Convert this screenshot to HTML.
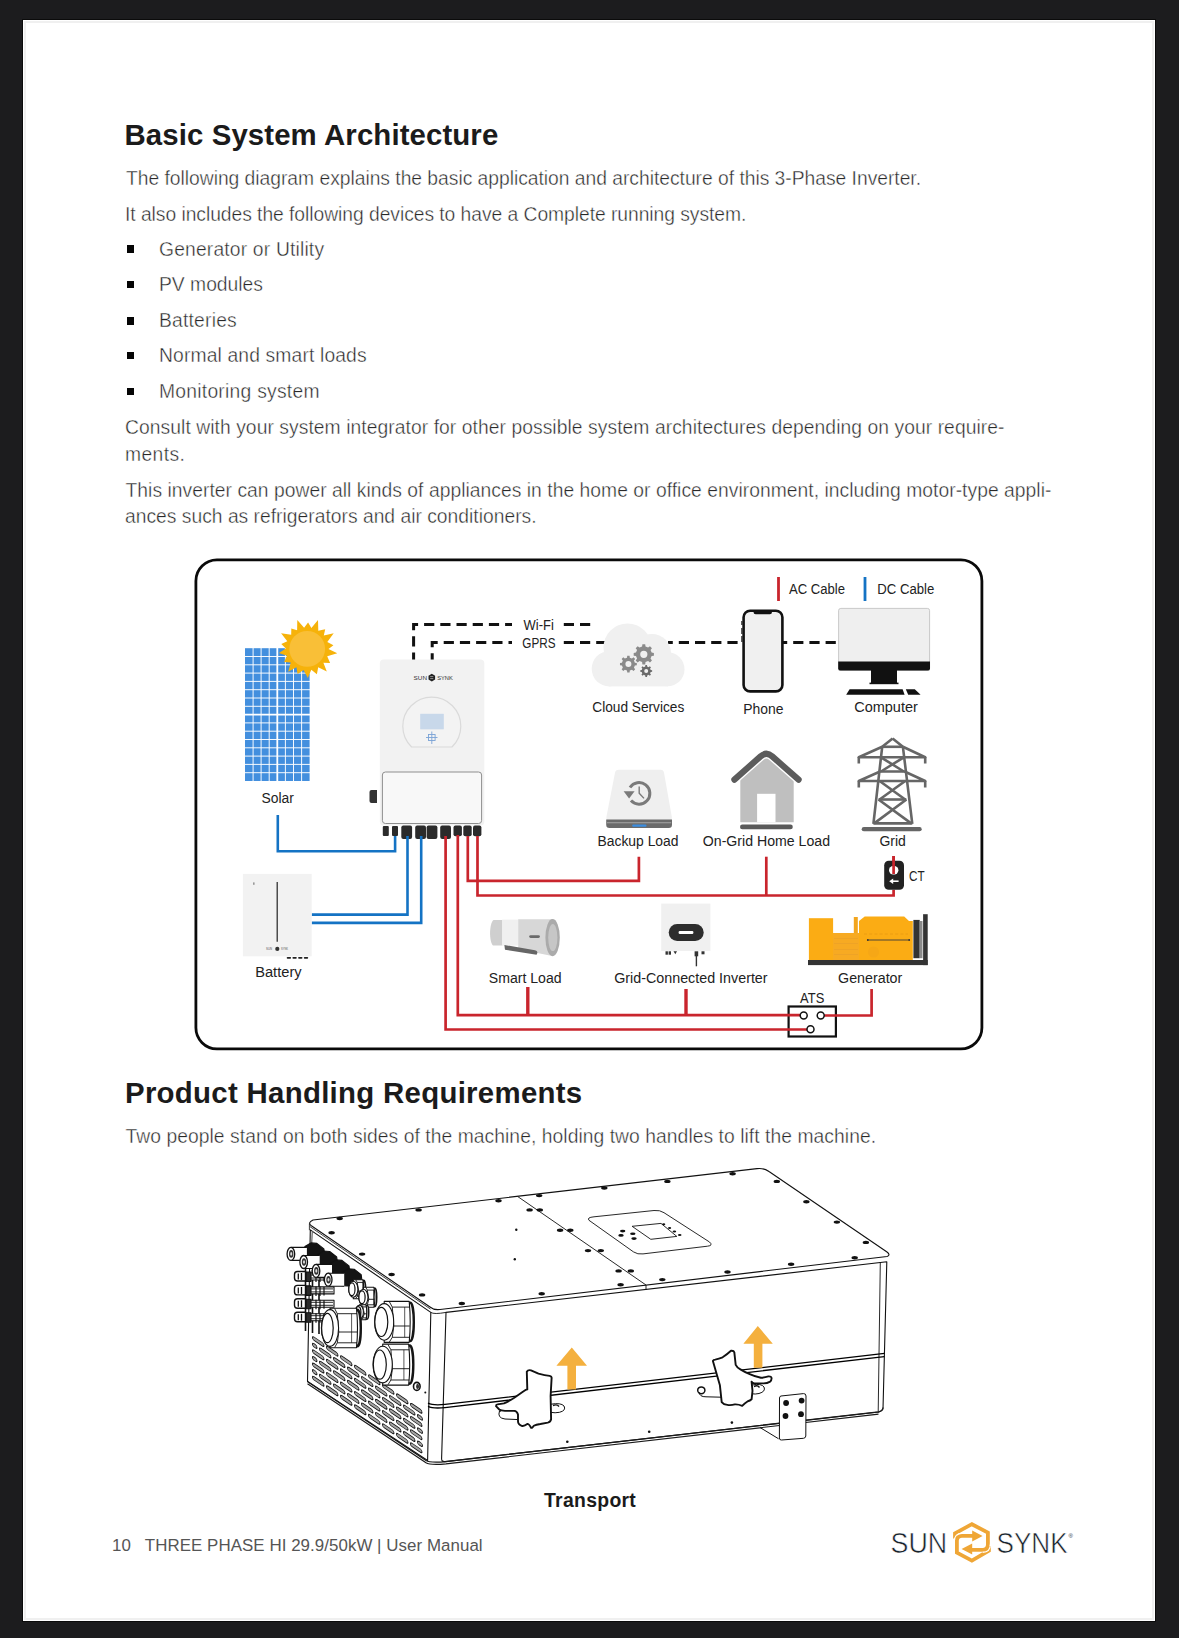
<!DOCTYPE html>
<html><head><meta charset="utf-8"><style>
html,body{margin:0;padding:0;}
body{width:1179px;height:1638px;background:#1c1c1e;position:relative;overflow:hidden;font-family:"Liberation Sans",sans-serif;}
#page{position:absolute;left:23px;top:20px;width:1132px;height:1601px;background:#fff;box-shadow:0 0 0 1px #0b0b0b;}
#page:after{content:"";position:absolute;left:0.5px;top:0.5px;right:1.5px;bottom:1.5px;border:2px solid #f0f0f0;}
.t{position:absolute;white-space:nowrap;line-height:1;color:#282828;font-size:19.3px;-webkit-text-stroke:0.4px #fff;}
.h{position:absolute;white-space:nowrap;line-height:1;color:#1b1b1b;font-size:29.4px;font-weight:700;}
.b{position:absolute;width:7.4px;height:7.4px;background:#050505;left:127px;}
svg{position:absolute;left:0;top:0;}
</style></head><body>
<div id="page"></div>
<svg width="1179" height="1638" viewBox="0 0 1179 1638" style="font-family:'Liberation Sans',sans-serif">
<!-- diagram box -->
<rect x="195.9" y="559.9" width="786" height="488.9" rx="21" fill="none" stroke="#0a0a0a" stroke-width="2.8"/>
<!-- legend -->
<line x1="778.5" y1="577" x2="778.5" y2="601" stroke="#c9252d" stroke-width="2.8"/>
<line x1="865" y1="577" x2="865" y2="601" stroke="#1473c4" stroke-width="2.8"/>
<g font-size="13.8" fill="#222">
<text x="789" y="594" textLength="56" lengthAdjust="spacingAndGlyphs">AC Cable</text>
<text x="877.3" y="594" textLength="57" lengthAdjust="spacingAndGlyphs">DC Cable</text>
<text x="523.6" y="629.5" textLength="30.2" lengthAdjust="spacingAndGlyphs">Wi-Fi</text>
<text x="522.3" y="647.5" textLength="33.2" lengthAdjust="spacingAndGlyphs">GPRS</text>
<text x="261.5" y="803.3" textLength="32.4" lengthAdjust="spacingAndGlyphs">Solar</text>
<text x="592.3" y="711.8" textLength="92" lengthAdjust="spacingAndGlyphs">Cloud Services</text>
<text x="743.2" y="713.6" textLength="40.2" lengthAdjust="spacingAndGlyphs">Phone</text>
<text x="854.2" y="711.8" textLength="63.6" lengthAdjust="spacingAndGlyphs">Computer</text>
<text x="597.5" y="846.2" textLength="81" lengthAdjust="spacingAndGlyphs">Backup Load</text>
<text x="702.8" y="846.2" textLength="127.2" lengthAdjust="spacingAndGlyphs">On-Grid Home Load</text>
<text x="879.4" y="846" textLength="26.4" lengthAdjust="spacingAndGlyphs">Grid</text>
<text x="909" y="880.7" textLength="15.6" lengthAdjust="spacingAndGlyphs">CT</text>
<text x="255.2" y="977.4" textLength="46.4" lengthAdjust="spacingAndGlyphs">Battery</text>
<text x="488.8" y="982.8" textLength="72.8" lengthAdjust="spacingAndGlyphs">Smart Load</text>
<text x="614.2" y="982.8" textLength="153.4" lengthAdjust="spacingAndGlyphs">Grid-Connected Inverter</text>
<text x="838.1" y="982.8" textLength="64.2" lengthAdjust="spacingAndGlyphs">Generator</text>
<text x="800.1" y="1003.2" textLength="24.2" lengthAdjust="spacingAndGlyphs">ATS</text>
</g>
<!-- dashed comm lines -->
<g fill="none" stroke="#111" stroke-width="3" stroke-dasharray="10.2 6">
<path d="M413.6,660 V624.6 H512" stroke-dashoffset="2.7"/>
<path d="M432.2,660 V642.6 H512" stroke-dashoffset="3.5"/>
<path d="M563.8,624.6 H591"/>
<path d="M563.8,642.6 H612"/>
<path d="M668,642.6 H742" stroke-dashoffset="5.4"/>
<path d="M782.5,642.6 H838" stroke-dashoffset="5.5"/>
</g>
<!-- cloud -->
<g fill="#f0f0f0">
<circle cx="627.5" cy="647.5" r="24"/>
<circle cx="652" cy="653" r="19"/>
<circle cx="667.5" cy="669.2" r="17"/>
<circle cx="609.3" cy="668.8" r="17.6"/>
<rect x="609" y="655" width="59" height="31.4"/>
</g>
<g fill="#8a8a8a" fill-rule="evenodd">
<path d="M651.61,652.59 L653.90,652.90 L653.90,655.70 L651.61,656.01 L650.54,658.61 L651.93,660.46 L649.96,662.43 L648.11,661.04 L645.51,662.11 L645.20,664.40 L642.40,664.40 L642.09,662.11 L639.49,661.04 L637.64,662.43 L635.67,660.46 L637.06,658.61 L635.99,656.01 L633.70,655.70 L633.70,652.90 L635.99,652.59 L637.06,649.99 L635.67,648.14 L637.64,646.17 L639.49,647.56 L642.09,646.49 L642.40,644.20 L645.20,644.20 L645.51,646.49 L648.11,647.56 L649.96,646.17 L651.93,648.14 L650.54,649.99 Z M640.20,654.30 a3.60,3.60 0 1,0 7.20,0 a3.60,3.60 0 1,0 -7.20,0 Z"/>
<path d="M634.85,662.69 L636.82,662.94 L636.82,665.26 L634.85,665.51 L633.96,667.66 L635.18,669.23 L633.53,670.88 L631.96,669.66 L629.81,670.55 L629.56,672.52 L627.24,672.52 L626.99,670.55 L624.84,669.66 L623.27,670.88 L621.62,669.23 L622.84,667.66 L621.95,665.51 L619.98,665.26 L619.98,662.94 L621.95,662.69 L622.84,660.54 L621.62,658.97 L623.27,657.32 L624.84,658.54 L626.99,657.65 L627.24,655.68 L629.56,655.68 L629.81,657.65 L631.96,658.54 L633.53,657.32 L635.18,658.97 L633.96,660.54 Z M625.40,664.10 a3.00,3.00 0 1,0 6.00,0 a3.00,3.00 0 1,0 -6.00,0 Z"/>
<path fill="#6a6a6a" d="M650.69,670.01 L652.14,670.18 L652.14,671.82 L650.69,671.99 L650.07,673.48 L650.98,674.62 L649.82,675.78 L648.68,674.87 L647.19,675.49 L647.02,676.94 L645.38,676.94 L645.21,675.49 L643.72,674.87 L642.58,675.78 L641.42,674.62 L642.33,673.48 L641.71,671.99 L640.26,671.82 L640.26,670.18 L641.71,670.01 L642.33,668.52 L641.42,667.38 L642.58,666.22 L643.72,667.13 L645.21,666.51 L645.38,665.06 L647.02,665.06 L647.19,666.51 L648.68,667.13 L649.82,666.22 L650.98,667.38 L650.07,668.52 Z M644.20,671.00 a2.00,2.00 0 1,0 4.00,0 a2.00,2.00 0 1,0 -4.00,0 Z"/>
</g>
<!-- phone -->
<rect x="743.6" y="610.8" width="38.8" height="80.6" rx="6.5" fill="#f0f0f0" stroke="#111" stroke-width="2.6"/>
<path d="M753.5,610.5 H772 V612 Q772,614.2 769.8,614.2 H755.7 Q753.5,614.2 753.5,612 Z" fill="#111"/>
<rect x="741.2" y="621" width="1.6" height="4" fill="#333"/>
<rect x="741.2" y="628" width="1.6" height="6" fill="#333"/>
<rect x="741.2" y="636" width="1.6" height="6" fill="#333"/>
<!-- computer -->
<rect x="838.6" y="608.4" width="91" height="62" rx="2.2" fill="#efefef" stroke="#bdbdbd" stroke-width="0.8"/>
<path d="M838.2,661.4 H930 V668.4 Q930,670.6 927.8,670.6 H840.4 Q838.2,670.6 838.2,668.4 Z" fill="#111"/>
<rect x="871" y="670" width="26" height="13.2" fill="#111"/>
<rect x="869.5" y="682.6" width="29" height="1.6" fill="#111"/>
<path d="M849.6,689.2 H902.6 L904.6,694.8 H846.2 Z" fill="#111"/>
<path d="M905.8,689.2 H914.8 L920.6,694.8 H908.2 Z" fill="#111"/>
<!-- solar panel -->
<rect x="245" y="648.2" width="64.6" height="132.8" fill="#438fde"/>
<g stroke="#fff" stroke-width="0.95">
<path d="M253.1,648 V781 M261.1,648 V781 M269.2,648 V781 M285.4,648 V781 M293.5,648 V781 M301.6,648 V781"/>
<path d="M245,656.5 H310 M245,664.8 H310 M245,673.1 H310 M245,681.4 H310 M245,689.7 H310 M245,698 H310 M245,706.3 H310 M245,722.9 H310 M245,731.2 H310 M245,739.5 H310 M245,747.8 H310 M245,756.1 H310 M245,764.4 H310 M245,772.7 H310"/>
</g>
<g stroke="#fff" stroke-width="1.8">
<path d="M277.3,648 V781 M245,714.6 H310"/>
</g>
<!-- sun -->
<polygon fill="#f6b20a" points="297.3,620.0 304.1,627.8 308.1,622.4 311.4,628.0 318.0,620.0 318.3,630.7 325.2,629.3 323.8,635.5 333.7,633.2 327.3,641.9 333.4,645.3 328.5,649.0 337.3,653.3 327.2,656.2 330.1,663.0 323.4,662.7 326.8,671.5 318.2,667.2 316.9,674.3 311.3,669.8 307.8,678.1 303.5,669.9 297.6,674.0 296.4,667.3 288.2,671.8 290.8,662.5 284.1,661.9 287.0,655.8 278.9,653.0 285.9,648.4 281.3,643.9 287.3,641.3 281.1,633.2 291.2,634.8 291.3,628.5 297.1,630.2"/>
<circle cx="307.2" cy="648.9" r="17.9" fill="#f9bf37"/>
<!-- inverter -->
<rect x="379.8" y="659.5" width="104.5" height="166" rx="4" fill="#f2f2f2"/>
<path d="M411.6,747 A29,29 0 1,1 452,747 Z" fill="#f3f3f3" stroke="#dadada" stroke-width="1.2"/>
<rect x="420.2" y="713.8" width="23.6" height="15.5" fill="#c8d8ea"/>
<g stroke="#7aa3d6" stroke-width="0.9" fill="none">
<rect x="428.5" y="734.5" width="6.6" height="6"/>
<path d="M431.8,731.5 V744 M426,737.5 H437.5"/>
</g>
<g font-size="5.6" fill="#333"><text x="413.6" y="679.6" textLength="13.4" lengthAdjust="spacingAndGlyphs">SUN</text><text x="437.2" y="679.6" textLength="15.6" lengthAdjust="spacingAndGlyphs">SYNK</text></g>
<path d="M431.8,673.8 L435.1,675.7 V679.5 L431.8,681.4 L428.5,679.5 V675.7 Z" fill="#222"/>
<path d="M430.2,676.6 H433.3 M433.3,678.6 H430.2" stroke="#ddd" stroke-width="0.6"/>
<rect x="382.4" y="772" width="99.2" height="51.5" rx="3" fill="#f8f8f8" stroke="#8e8e8e" stroke-width="1"/>
<path d="M371.5,790 H377 V803 H371.5 Q369.5,803 369.5,801 V792 Q369.5,790 371.5,790 Z" fill="#333"/>
<g fill="#2b2b2b">
<rect x="382.8" y="826" width="6" height="10" rx="1"/>
<rect x="392" y="826" width="6" height="10" rx="1"/>
<rect x="401.3" y="825.6" width="10.8" height="13.4" rx="2"/>
<rect x="415.2" y="825.6" width="10.8" height="13.4" rx="2"/>
<rect x="426.6" y="825.6" width="10.8" height="13.4" rx="2"/>
<rect x="440.2" y="825.6" width="10.8" height="13.4" rx="2"/>
<rect x="453.5" y="825.6" width="8.4" height="10.6" rx="2"/>
<rect x="463.3" y="825.6" width="8.4" height="10.6" rx="2"/>
<rect x="473" y="825.6" width="8.4" height="10.6" rx="2"/>
</g>
<!-- ATS box -->
<rect x="788.6" y="1006.5" width="47.3" height="30" fill="#fff" stroke="#111" stroke-width="2.2"/>
<!-- cables -->
<g fill="none" stroke="#1473c4" stroke-width="2.6">
<path d="M277.8,815 V851.2 H395.1 V836"/>
<path d="M311.7,914.6 H407.5 V836"/>
<path d="M311.7,922.9 H421.2 V836"/>
</g>
<g fill="none" stroke="#c9252d" stroke-width="2.7">
<path d="M445.6,836 V1029.5 H807"/>
<path d="M457.8,835 V1015.2 H800.3"/>
<path d="M467.8,836 V880.9 H638.9 V856.7"/>
<path d="M477.5,836 V895.5 H893.6 V889.8"/>
<path d="M766.3,856.7 V895.5"/>
<path d="M893.6,856 V874"/>
<path d="M824.1,1015.5 H871.6 V989"/>
</g>
<g fill="none" stroke="#c9252d" stroke-width="3.4">
<path d="M527.8,987 V1015.2"/>
<path d="M686,989 V1015.2"/>
</g>
<!-- ATS -->
<g fill="#fff" stroke="#111" stroke-width="1.5">
<circle cx="803.7" cy="1015.5" r="3.5"/>
<circle cx="820.7" cy="1015.5" r="3.5"/>
<circle cx="810.5" cy="1029.2" r="3.5"/>
</g>
<!-- backup load -->
<path d="M618.5,769.8 H660.6 Q663.6,769.8 664,772.8 L671.8,817 Q672.2,821 668.2,821 H610 Q606,821 606.4,817 L615,772.8 Q615.5,769.8 618.5,769.8 Z" fill="#efefef"/>
<path d="M606.2,819.5 H672 V824.8 Q672,828 668.8,828 H609.4 Q606.2,828 606.2,824.8 Z" fill="#6b6b6b"/>
<rect x="607" y="822.4" width="64.2" height="0.8" fill="#b5b5b5"/>
<rect x="632.2" y="824.6" width="14.3" height="2.2" rx="1" fill="#3b8de0"/>
<g fill="none" stroke="#7a7a7a" stroke-width="3">
<path d="M631,800.6 A10.8,10.8 0 1,0 630,787.5"/>
</g>
<path d="M623.6,791.2 L634.6,791.2 L629.1,798.6 Z" fill="#7a7a7a"/>
<path d="M639.2,786.6 V793.2 L644,798.4" fill="none" stroke="#7a7a7a" stroke-width="1.4"/>
<!-- house -->
<path d="M740.3,777 L766.3,756 L793.7,777 V822.2 H740.3 Z" fill="#bfbfbf"/>
<rect x="757.1" y="793.8" width="18.4" height="28.4" fill="#fff"/>
<path d="M734.4,779.6 L760.6,756.4 Q766.4,751.2 772.2,756.4 L798.6,779.6" fill="none" stroke="#fff" stroke-width="9" stroke-linecap="round" stroke-linejoin="round"/>
<path d="M734.4,779.6 L760.6,756.4 Q766.4,751.2 772.2,756.4 L798.6,779.6" fill="none" stroke="#5c5c5c" stroke-width="6.2" stroke-linecap="round" stroke-linejoin="round"/>
<rect x="740" y="824.6" width="52.8" height="4.6" rx="2.3" fill="#5a5a5a"/>
<!-- tower -->
<g fill="none" stroke="#666" stroke-width="2.6" stroke-linejoin="round" stroke-linecap="butt">
<path d="M892.6,738.6 L882.2,746.8 M892.6,738.6 L902.9,746.8"/>
<path d="M882.2,746.8 H902.9"/>
<path d="M882.2,746.8 L873.4,823.8 M902.9,746.8 L912.3,823.8"/>
<path d="M882.2,746.8 L858.8,757.3 H925.2 L902.9,746.8"/>
<path d="M858.8,757 V763.6 M925.2,757 V763.6"/>
<path d="M880.1,771.5 L858.8,781 H925.2 L904.5,771.5 Z"/>
<path d="M858.8,781 V787.4 M925.2,781 V787.4"/>
<path d="M881,757.3 L903.8,771.5 M903.8,757.3 L881,771.5"/>
<path d="M879.6,781 L905.2,799.5 M905.2,781 L879.6,799.5"/>
<path d="M878.5,799.5 H906.4"/>
<path d="M878.5,799.5 L911.2,823.4 M906.4,799.5 L874.2,823.4"/>
<path d="M873.4,823.4 H912.3"/>
</g>
<path d="M863.8,829.2 H919.6" stroke="#666" stroke-width="4.2" stroke-linecap="round"/>
<!-- CT -->
<rect x="884.2" y="860.8" width="19.8" height="29" rx="4.5" fill="#222"/>
<rect x="889" y="866" width="9.4" height="8.4" rx="4.2" fill="#fff"/>
<path d="M898.6,881.2 H892.6" stroke="#fff" stroke-width="1.6"/>
<path d="M889.2,881.2 L893.2,878.4 V884 Z" fill="#fff"/>
<path d="M893.6,856 V874" stroke="#c9252d" stroke-width="2.7"/>
<!-- battery -->
<rect x="242.9" y="873.9" width="68.8" height="82.4" fill="#f2f2f2"/>
<path d="M277.2,881.9 V941.7" stroke="#222" stroke-width="1.2"/>
<rect x="253" y="882.4" width="1.6" height="2.4" fill="#999"/>
<g font-size="3.6" fill="#555"><text x="266" y="950" textLength="6" lengthAdjust="spacingAndGlyphs">SUN</text><text x="281" y="950" textLength="7" lengthAdjust="spacingAndGlyphs">SYNK</text></g>
<circle cx="277.3" cy="948.9" r="2.1" fill="#333"/>
<path d="M287.6,957.8 H307.6" stroke="#222" stroke-width="1.8" stroke-linecap="round" stroke-dasharray="2.6 3.1"/>
<!-- smart load -->
<path d="M493.5,920 H502.5 V945.5 H493 C489,942 489,923.5 493.5,920 Z" fill="#cfcfcf"/>
<rect x="502.2" y="919.6" width="16.2" height="26" fill="#f0f0f0"/>
<path d="M518.2,919.2 H552 V956 L518.2,949 Z" fill="#d7d7d7"/>
<ellipse cx="552.6" cy="937.6" rx="7.2" ry="18.6" fill="#ababab"/>
<ellipse cx="552.8" cy="937.6" rx="4.6" ry="13.5" fill="#c6c6c6"/>
<rect x="529.2" y="935.2" width="10.7" height="2.8" rx="1.4" fill="#6a6a6a"/>
<path d="M504.4,945 L535,950.2 Q538,951 537.2,953.2 L536.6,954.8 L505,949.8 Z" fill="#666"/>
<!-- grid-connected inverter -->
<rect x="661.2" y="903.6" width="49.2" height="47.4" fill="#f0f0f0"/>
<rect x="668.7" y="924" width="35" height="17" rx="8.5" fill="#2d2d2d"/>
<rect x="678.6" y="931" width="14.8" height="3" rx="1.2" fill="#fff"/>
<g fill="#333"><rect x="665.5" y="951.3" width="2.4" height="3.4"/><rect x="668.6" y="951.3" width="2.4" height="3.4"/><path d="M673.5,951.3 H677 L675.3,954.3 Z"/><rect x="694.6" y="951.3" width="3.6" height="5"/><rect x="701.5" y="951.3" width="3" height="3"/></g>
<path d="M696.4,955 V966.3" stroke="#333" stroke-width="1.4"/>
<!-- generator -->
<rect x="808.9" y="918.2" width="24.2" height="42" fill="#fbac14"/>
<rect x="833" y="933" width="26.2" height="27" fill="#f7aa22"/>
<rect x="853.8" y="917" width="4" height="16" fill="#f2a51e"/>
<path d="M859,921 L864.7,916.5 H904.2 L909,921 H912.8 V960 H859 Z" fill="#fbac14"/>
<path d="M867.6,940 H909.4" stroke="#3a3a3a" stroke-width="0.9"/>
<circle cx="867.8" cy="940" r="0.9" fill="#333"/><circle cx="909.2" cy="940" r="0.9" fill="#333"/>
<path d="M864,934 H908" stroke="#e99a12" stroke-width="0.8" stroke-dasharray="3 2.2"/>
<path d="M834,938.5 H858 M834,943.5 H858 M834,949.5 H858 M834,954.5 H858" stroke="#eaa028" stroke-width="0.7"/>
<circle cx="873.5" cy="952" r="5.5" fill="#f6a716"/>
<rect x="913.4" y="919.9" width="6.3" height="38.3" fill="#333"/>
<rect x="919.7" y="921" width="2.8" height="37.2" fill="#8a8a8a"/>
<rect x="923.1" y="914.2" width="4.6" height="50.9" fill="#333"/>
<rect x="808" y="960" width="119.7" height="5.1" fill="#333"/>
</svg>

<svg width="1179" height="1638" viewBox="0 0 1179 1638">
<g stroke="#111" stroke-width="1.1" fill="#fff" stroke-linejoin="round">
<!-- left face -->
<path d="M310.3,1229.9 L430.8,1312.4 L427.6,1460.5 L307.5,1381.5 Z"/>
<!-- front face -->
<path d="M446,1312.4 L886.8,1261.8 L883,1409 Q882,1411.5 879,1412 L445,1461.6 Q441.5,1462 441.6,1458.5 Z"/>
<!-- top face -->
<path d="M313,1220 L757,1168.6 Q764,1167.8 769,1171.5 L887,1252 Q891,1255 887,1256.5 L440,1309.5 Q434,1310.3 430,1307 L311,1225.5 Q307.5,1222.5 313,1220 Z"/>
</g>
<g stroke="#111" stroke-width="0.9" fill="none">
<!-- lid lip -->
<path d="M309.8,1226.5 L430.5,1309.1" stroke-width="0.8"/>
<path d="M430.8,1312.4 Q434,1314.6 446,1312.4"/>
<path d="M309.4,1223.6 V1230.2" stroke-width="0.8"/>
<path d="M312.3,1231.2 L311.6,1245" stroke="#666" stroke-width="1.2"/>
<path d="M880.3,1262.5 L878.2,1412.5"/>
<!-- divider + panel -->
<path d="M517.8,1196.6 L646,1285 V1290"/>
<path d="M594,1216.8 L654,1210.5 Q660,1209.9 664,1212.7 L709.5,1242 Q713.5,1245.5 707.5,1246.2 L643,1253.9 Q637.5,1254.6 633.5,1251.9 L589,1220.3 Q586.5,1217.5 594,1216.8 Z"/>
<path d="M632.1,1226.3 L661,1223.4 L676.8,1236.4 L650.8,1239.3 Z"/>
<!-- seam band -->
<path d="M428,1403.2 Q433,1405.6 445,1404.4 L884.5,1353.4" stroke-width="1.35" stroke="#000"/>
<path d="M428,1406.4 Q433,1408.8 445,1407.6 L884.3,1356.6" stroke-width="1.35" stroke="#000"/>
</g>
<!-- bottom edges heavy -->
<g stroke="#1a1a1a" stroke-width="1.2" fill="none">
<path d="M307.5,1381.5 L426,1460.5 Q430,1463 446,1461.6 L878.5,1411.8 Q882.5,1411 883,1407.5"/>
<path d="M307.5,1383.8 L426,1462.8 Q430,1465.3 446,1463.9 L878.5,1414.1"/>
</g>
<!-- screws -->
<g fill="#111">
<ellipse cx="339.7" cy="1218.5" rx="3.2" ry="1.7"/>
<ellipse cx="418.6" cy="1209.9" rx="3.2" ry="1.7"/>
<ellipse cx="498.5" cy="1200.7" rx="3.2" ry="1.7"/>
<ellipse cx="539.2" cy="1195.6" rx="3.2" ry="1.7"/>
<ellipse cx="604.3" cy="1188.0" rx="3.2" ry="1.7"/>
<ellipse cx="667.4" cy="1181.4" rx="3.2" ry="1.7"/>
<ellipse cx="732.6" cy="1173.7" rx="3.2" ry="1.7"/>
<ellipse cx="776.8" cy="1181.4" rx="3.2" ry="1.7"/>
<ellipse cx="806.4" cy="1201.7" rx="3.2" ry="1.7"/>
<ellipse cx="836.9" cy="1222.1" rx="3.2" ry="1.7"/>
<ellipse cx="865.9" cy="1242.4" rx="3.2" ry="1.7"/>
<ellipse cx="854.7" cy="1257.7" rx="3.2" ry="1.7"/>
<ellipse cx="791.1" cy="1264.3" rx="3.2" ry="1.7"/>
<ellipse cx="727.5" cy="1272.0" rx="3.2" ry="1.7"/>
<ellipse cx="662.3" cy="1279.6" rx="3.2" ry="1.7"/>
<ellipse cx="620.6" cy="1284.7" rx="3.2" ry="1.7"/>
<ellipse cx="541.7" cy="1293.8" rx="3.2" ry="1.7"/>
<ellipse cx="461.8" cy="1303.5" rx="3.2" ry="1.7"/>
<ellipse cx="331.6" cy="1232.8" rx="3.2" ry="1.7"/>
<ellipse cx="362.1" cy="1254.1" rx="3.2" ry="1.7"/>
<ellipse cx="391.6" cy="1274.5" rx="3.2" ry="1.7"/>
<ellipse cx="422.1" cy="1294.9" rx="3.2" ry="1.7"/>
<ellipse cx="529.6" cy="1209.9" rx="3.2" ry="1.7"/>
<ellipse cx="539.8" cy="1209.9" rx="3.2" ry="1.7"/>
<ellipse cx="560.1" cy="1230.2" rx="3.2" ry="1.7"/>
<ellipse cx="570.3" cy="1230.2" rx="3.2" ry="1.7"/>
<ellipse cx="588.0" cy="1250.6" rx="3.2" ry="1.7"/>
<ellipse cx="600.8" cy="1250.6" rx="3.2" ry="1.7"/>
<ellipse cx="618.6" cy="1270.9" rx="3.2" ry="1.7"/>
<ellipse cx="630.8" cy="1270.9" rx="3.2" ry="1.7"/>
<circle cx="516.3" cy="1229.7" r="1.2"/><circle cx="514.8" cy="1259.2" r="1.2"/>
<circle cx="567.3" cy="1441.8" r="1.3"/><circle cx="649.2" cy="1431.8" r="1.3"/><circle cx="731.9" cy="1422.6" r="1.3"/>
<circle cx="425.3" cy="1392.4" r="1"/>
</g>
<!-- panel buttons -->
<g fill="#111">
<ellipse cx="622.7" cy="1231.1" rx="2.7" ry="1.3"/><ellipse cx="632.8" cy="1233.8" rx="2.7" ry="1.3"/><ellipse cx="621" cy="1235.4" rx="2.7" ry="1.3"/><ellipse cx="634" cy="1238.6" rx="2.7" ry="1.3"/>
<ellipse cx="663.7" cy="1224.3" rx="1.6" ry="1"/><ellipse cx="669.6" cy="1227.9" rx="1.6" ry="1"/><ellipse cx="674.4" cy="1231.5" rx="1.8" ry="1"/><ellipse cx="679.7" cy="1235.1" rx="1.8" ry="1"/>
</g>
<!-- vent slots -->
<g transform="matrix(1,0.68,0,1,312.5,1335.5)" fill="#a5a5a5" stroke="#111" stroke-width="0.9">
<rect x="0.0" y="0.5" width="11.5" height="3.4" rx="1.7"/>
<rect x="14.0" y="0.5" width="11.5" height="3.4" rx="1.7"/>
<rect x="28.0" y="0.5" width="11.5" height="3.4" rx="1.7"/>
<rect x="42.0" y="0.5" width="11.5" height="3.4" rx="1.7"/>
<rect x="56.0" y="0.5" width="11.5" height="3.4" rx="1.7"/>
<rect x="70.0" y="0.5" width="11.5" height="3.4" rx="1.7"/>
<rect x="84.0" y="0.5" width="11.5" height="3.4" rx="1.7"/>
<rect x="98.0" y="0.5" width="11.5" height="3.4" rx="1.7"/>
<rect x="0.0" y="7.1" width="4.5" height="3.4" rx="1.7"/>
<rect x="7.0" y="7.1" width="11.5" height="3.4" rx="1.7"/>
<rect x="21.0" y="7.1" width="11.5" height="3.4" rx="1.7"/>
<rect x="35.0" y="7.1" width="11.5" height="3.4" rx="1.7"/>
<rect x="49.0" y="7.1" width="11.5" height="3.4" rx="1.7"/>
<rect x="63.0" y="7.1" width="11.5" height="3.4" rx="1.7"/>
<rect x="77.0" y="7.1" width="11.5" height="3.4" rx="1.7"/>
<rect x="91.0" y="7.1" width="11.5" height="3.4" rx="1.7"/>
<rect x="105.0" y="7.1" width="5.0" height="3.4" rx="1.7"/>
<rect x="0.0" y="13.7" width="11.5" height="3.4" rx="1.7"/>
<rect x="14.0" y="13.7" width="11.5" height="3.4" rx="1.7"/>
<rect x="28.0" y="13.7" width="11.5" height="3.4" rx="1.7"/>
<rect x="42.0" y="13.7" width="11.5" height="3.4" rx="1.7"/>
<rect x="56.0" y="13.7" width="11.5" height="3.4" rx="1.7"/>
<rect x="70.0" y="13.7" width="11.5" height="3.4" rx="1.7"/>
<rect x="84.0" y="13.7" width="11.5" height="3.4" rx="1.7"/>
<rect x="98.0" y="13.7" width="11.5" height="3.4" rx="1.7"/>
<rect x="0.0" y="20.3" width="4.5" height="3.4" rx="1.7"/>
<rect x="7.0" y="20.3" width="11.5" height="3.4" rx="1.7"/>
<rect x="21.0" y="20.3" width="11.5" height="3.4" rx="1.7"/>
<rect x="35.0" y="20.3" width="11.5" height="3.4" rx="1.7"/>
<rect x="49.0" y="20.3" width="11.5" height="3.4" rx="1.7"/>
<rect x="63.0" y="20.3" width="11.5" height="3.4" rx="1.7"/>
<rect x="77.0" y="20.3" width="11.5" height="3.4" rx="1.7"/>
<rect x="91.0" y="20.3" width="11.5" height="3.4" rx="1.7"/>
<rect x="105.0" y="20.3" width="5.0" height="3.4" rx="1.7"/>
<rect x="0.0" y="26.9" width="11.5" height="3.4" rx="1.7"/>
<rect x="14.0" y="26.9" width="11.5" height="3.4" rx="1.7"/>
<rect x="28.0" y="26.9" width="11.5" height="3.4" rx="1.7"/>
<rect x="42.0" y="26.9" width="11.5" height="3.4" rx="1.7"/>
<rect x="56.0" y="26.9" width="11.5" height="3.4" rx="1.7"/>
<rect x="70.0" y="26.9" width="11.5" height="3.4" rx="1.7"/>
<rect x="84.0" y="26.9" width="11.5" height="3.4" rx="1.7"/>
<rect x="98.0" y="26.9" width="11.5" height="3.4" rx="1.7"/>
<rect x="0.0" y="33.5" width="4.5" height="3.4" rx="1.7"/>
<rect x="7.0" y="33.5" width="11.5" height="3.4" rx="1.7"/>
<rect x="21.0" y="33.5" width="11.5" height="3.4" rx="1.7"/>
<rect x="35.0" y="33.5" width="11.5" height="3.4" rx="1.7"/>
<rect x="49.0" y="33.5" width="11.5" height="3.4" rx="1.7"/>
<rect x="63.0" y="33.5" width="11.5" height="3.4" rx="1.7"/>
<rect x="77.0" y="33.5" width="11.5" height="3.4" rx="1.7"/>
<rect x="91.0" y="33.5" width="11.5" height="3.4" rx="1.7"/>
<rect x="105.0" y="33.5" width="5.0" height="3.4" rx="1.7"/>
<rect x="0.0" y="40.1" width="11.5" height="3.4" rx="1.7"/>
<rect x="14.0" y="40.1" width="11.5" height="3.4" rx="1.7"/>
<rect x="28.0" y="40.1" width="11.5" height="3.4" rx="1.7"/>
<rect x="42.0" y="40.1" width="11.5" height="3.4" rx="1.7"/>
<rect x="56.0" y="40.1" width="11.5" height="3.4" rx="1.7"/>
<rect x="70.0" y="40.1" width="11.5" height="3.4" rx="1.7"/>
<rect x="84.0" y="40.1" width="11.5" height="3.4" rx="1.7"/>
<rect x="98.0" y="40.1" width="11.5" height="3.4" rx="1.7"/>
</g>
</svg>
<svg width="1179" height="1638" viewBox="0 0 1179 1638">
<g stroke="#111" stroke-width="1.1" stroke-linejoin="round">
<path d="M305.5,1268 V1331 M312.5,1270 V1333 M319,1272 V1334" fill="none" stroke-width="1.6"/>
<path d="M305,1273.0 H334 V1280.0 H305 Z" fill="#fff"/>
<path d="M309,1275.0 H333 M309,1278.0 H333" fill="none" stroke-width="0.9"/>
<path d="M306,1272.0 H311 V1281.5 H306 Z" fill="#2a2a2a"/>
<path d="M316,1272.5 V1282.0 M320,1272.5 V1282.0 M324,1273.0 V1281.5" fill="none" stroke-width="1.2"/>
<path d="M297.5,1271.5 H305.5 V1281.0 H297.5 Q294.5,1281.0 294.5,1278.0 V1274.5 Q294.5,1271.5 297.5,1271.5 Z" fill="#fff" stroke-width="1.4"/>
<path d="M298.3,1273.5 V1279.5 M301.5,1273.0 V1280.0" fill="none" stroke-width="1.3"/>
<path d="M305,1286.9 H334 V1293.9 H305 Z" fill="#fff"/>
<path d="M309,1288.9 H333 M309,1291.9 H333" fill="none" stroke-width="0.9"/>
<path d="M306,1285.9 H311 V1295.4 H306 Z" fill="#2a2a2a"/>
<path d="M316,1286.4 V1295.9 M320,1286.4 V1295.9 M324,1286.9 V1295.4" fill="none" stroke-width="1.2"/>
<path d="M297.5,1285.4 H305.5 V1294.9 H297.5 Q294.5,1294.9 294.5,1291.9 V1288.4 Q294.5,1285.4 297.5,1285.4 Z" fill="#fff" stroke-width="1.4"/>
<path d="M298.3,1287.4 V1293.4 M301.5,1286.9 V1293.9" fill="none" stroke-width="1.3"/>
<path d="M305,1300.3 H334 V1307.3 H305 Z" fill="#fff"/>
<path d="M309,1302.3 H333 M309,1305.3 H333" fill="none" stroke-width="0.9"/>
<path d="M306,1299.3 H311 V1308.8 H306 Z" fill="#2a2a2a"/>
<path d="M316,1299.8 V1309.3 M320,1299.8 V1309.3 M324,1300.3 V1308.8" fill="none" stroke-width="1.2"/>
<path d="M297.5,1298.8 H305.5 V1308.3 H297.5 Q294.5,1308.3 294.5,1305.3 V1301.8 Q294.5,1298.8 297.5,1298.8 Z" fill="#fff" stroke-width="1.4"/>
<path d="M298.3,1300.8 V1306.8 M301.5,1300.3 V1307.3" fill="none" stroke-width="1.3"/>
<path d="M305,1313.7 H334 V1320.7 H305 Z" fill="#fff"/>
<path d="M309,1315.7 H333 M309,1318.7 H333" fill="none" stroke-width="0.9"/>
<path d="M306,1312.7 H311 V1322.2 H306 Z" fill="#2a2a2a"/>
<path d="M316,1313.2 V1322.7 M320,1313.2 V1322.7 M324,1313.7 V1322.2" fill="none" stroke-width="1.2"/>
<path d="M297.5,1312.2 H305.5 V1321.7 H297.5 Q294.5,1321.7 294.5,1318.7 V1315.2 Q294.5,1312.2 297.5,1312.2 Z" fill="#fff" stroke-width="1.4"/>
<path d="M298.3,1314.2 V1320.2 M301.5,1313.7 V1320.7" fill="none" stroke-width="1.3"/>
<path d="M304.9,1246.4 L310.9,1242.9 L316.9,1243.4 L323.9,1248.9 L324.9,1256.9 L316.9,1260.4 L304.9,1259.9 Z" fill="#141414"/>
<path d="M290.9,1247.4 H306.9 V1260.4 H290.9 Z" fill="#fff" stroke="none"/>
<path d="M290.9,1247.4 H306.9 M290.9,1260.4 H306.9" fill="none"/>
<ellipse cx="290.9" cy="1253.9" rx="3.8" ry="6.5" fill="#fff" stroke-width="1.3"/>
<ellipse cx="291.2" cy="1253.9" rx="2.2" ry="3.8" fill="#333" stroke="none"/>
<ellipse cx="291.2" cy="1253.9" rx="1" ry="1.8" fill="#ddd" stroke="none"/>
<path d="M317.7,1254.5 L323.7,1251.0 L329.7,1251.5 L336.7,1257.0 L337.7,1265.0 L329.7,1268.5 L317.7,1268.0 Z" fill="#141414"/>
<path d="M303.7,1255.5 H319.7 V1268.5 H303.7 Z" fill="#fff" stroke="none"/>
<path d="M303.7,1255.5 H319.7 M303.7,1268.5 H319.7" fill="none"/>
<ellipse cx="303.7" cy="1262.0" rx="3.8" ry="6.5" fill="#fff" stroke-width="1.3"/>
<ellipse cx="304.0" cy="1262.0" rx="2.2" ry="3.8" fill="#333" stroke="none"/>
<ellipse cx="304.0" cy="1262.0" rx="1" ry="1.8" fill="#ddd" stroke="none"/>
<path d="M330.0,1263.4 L336.0,1259.9 L342.0,1260.4 L349.0,1265.9 L350.0,1273.9 L342.0,1277.4 L330.0,1276.9 Z" fill="#141414"/>
<path d="M316.0,1264.4 H332.0 V1277.4 H316.0 Z" fill="#fff" stroke="none"/>
<path d="M316.0,1264.4 H332.0 M316.0,1277.4 H332.0" fill="none"/>
<ellipse cx="316.0" cy="1270.9" rx="3.8" ry="6.5" fill="#fff" stroke-width="1.3"/>
<ellipse cx="316.3" cy="1270.9" rx="2.2" ry="3.8" fill="#333" stroke="none"/>
<ellipse cx="316.3" cy="1270.9" rx="1" ry="1.8" fill="#ddd" stroke="none"/>
<path d="M342.2,1272.2 L348.2,1268.7 L354.2,1269.2 L361.2,1274.7 L362.2,1282.7 L354.2,1286.2 L342.2,1285.7 Z" fill="#141414"/>
<path d="M328.2,1273.2 H344.2 V1286.2 H328.2 Z" fill="#fff" stroke="none"/>
<path d="M328.2,1273.2 H344.2 M328.2,1286.2 H344.2" fill="none"/>
<ellipse cx="328.2" cy="1279.7" rx="3.8" ry="6.5" fill="#fff" stroke-width="1.3"/>
<ellipse cx="328.5" cy="1279.7" rx="2.2" ry="3.8" fill="#333" stroke="none"/>
<ellipse cx="328.5" cy="1279.7" rx="1" ry="1.8" fill="#ddd" stroke="none"/>
<ellipse cx="363.8" cy="1289.2" rx="1.8" ry="8.8" fill="#fff" stroke-width="1.6" stroke="#151515"/>
<path d="M353.3,1279.7 L362.8,1279.7 Q364.8,1289.2 362.8,1298.7 L353.3,1298.7 Z" fill="#fff"/>
<path d="M355.8,1279.9 L357.2,1282.4 L363.3,1282.4 M358.2,1291.1 L363.3,1291.1 M355.8,1298.5 L357.2,1296.3 L363.3,1296.3 M357.2,1282.4 L358.7,1291.1 L357.2,1296.3" fill="none" stroke-width="0.9"/>
<path d="M362.7,1282.4 V1296.3" fill="none" stroke-width="0.7"/>
<ellipse cx="353.3" cy="1289.2" rx="4.6" ry="8.0" fill="#fff"/>
<ellipse cx="351.9" cy="1289.2" rx="3.1" ry="6.4" fill="#fff" stroke-width="1.2"/>
<ellipse cx="374.9" cy="1297.3" rx="1.8" ry="9.3" fill="#fff" stroke-width="1.6" stroke="#151515"/>
<path d="M363.4,1287.3 L373.9,1287.3 Q375.9,1297.3 373.9,1307.3 L363.4,1307.3 Z" fill="#fff"/>
<path d="M365.9,1287.5 L367.3,1290.1 L374.4,1290.1 M368.3,1299.3 L374.4,1299.3 M365.9,1307.1 L367.3,1304.8 L374.4,1304.8 M367.3,1290.1 L368.8,1299.3 L367.3,1304.8" fill="none" stroke-width="0.9"/>
<path d="M373.5,1290.1 V1304.8" fill="none" stroke-width="0.7"/>
<ellipse cx="363.4" cy="1297.3" rx="4.6" ry="8.0" fill="#fff"/>
<ellipse cx="362.0" cy="1297.3" rx="3.1" ry="6.4" fill="#fff" stroke-width="1.2"/>
<ellipse cx="366.9" cy="1312.3" rx="1.8" ry="7.0" fill="#fff" stroke-width="1.6" stroke="#151515"/>
<path d="M359.4,1304.8 L365.9,1304.8 Q367.9,1312.3 365.9,1319.8 L359.4,1319.8 Z" fill="#fff"/>
<path d="M361.6,1305.0 L362.8,1306.9 L366.4,1306.9 M363.8,1313.8 L366.4,1313.8 M361.6,1319.6 L362.8,1317.9 L366.4,1317.9 M362.8,1306.9 L364.3,1313.8 L362.8,1317.9" fill="none" stroke-width="0.9"/>
<path d="M366.6,1306.9 V1317.9" fill="none" stroke-width="0.7"/>
<ellipse cx="359.4" cy="1312.3" rx="4.0" ry="7.0" fill="#fff"/>
<ellipse cx="358.2" cy="1312.3" rx="2.7" ry="5.6" fill="#fff" stroke-width="1.2"/>
<ellipse cx="357.5" cy="1328.0" rx="3.3" ry="18.4" fill="#fff" stroke-width="2.4" stroke="#151515"/>
<path d="M330.0,1308.2 L356.5,1308.2 Q358.5,1328.0 356.5,1347.8 L330.0,1347.8 Z" fill="#fff"/>
<path d="M334.7,1308.6 L337.3,1313.7 L357.0,1313.7 M338.3,1332.0 L357.0,1332.0 M334.7,1347.4 L337.3,1342.8 L357.0,1342.8 M337.3,1313.7 L338.8,1332.0 L337.3,1342.8" fill="none" stroke-width="0.9"/>
<path d="M351.6,1313.7 V1342.8" fill="none" stroke-width="0.7"/>
<ellipse cx="330.0" cy="1328.0" rx="8.6" ry="18.4" fill="#fff"/>
<ellipse cx="327.4" cy="1328.0" rx="5.8" ry="14.7" fill="#fff" stroke-width="1.2"/>
<ellipse cx="410.2" cy="1321.9" rx="3.6" ry="19.1" fill="#fff" stroke-width="2.4" stroke="#151515"/>
<path d="M384.2,1301.4 L409.2,1301.4 Q411.2,1321.9 409.2,1342.4 L384.2,1342.4 Z" fill="#fff"/>
<path d="M389.4,1301.8 L392.3,1307.1 L409.7,1307.1 M393.3,1326.0 L409.7,1326.0 M389.4,1342.0 L392.3,1337.3 L409.7,1337.3 M392.3,1307.1 L393.8,1326.0 L392.3,1337.3" fill="none" stroke-width="0.9"/>
<path d="M404.7,1307.1 V1337.3" fill="none" stroke-width="0.7"/>
<ellipse cx="384.2" cy="1321.9" rx="9.5" ry="18.3" fill="#fff"/>
<ellipse cx="381.3" cy="1321.9" rx="6.5" ry="14.6" fill="#fff" stroke-width="1.2"/>
<ellipse cx="409.7" cy="1364.6" rx="3.6" ry="19.1" fill="#fff" stroke-width="2.4" stroke="#151515"/>
<path d="M382.7,1344.1 L408.7,1344.1 Q410.7,1364.6 408.7,1385.1 L382.7,1385.1 Z" fill="#fff"/>
<path d="M388.0,1344.5 L390.9,1349.8 L409.2,1349.8 M391.9,1368.7 L409.2,1368.7 M388.0,1384.7 L390.9,1380.0 L409.2,1380.0 M390.9,1349.8 L392.4,1368.7 L390.9,1380.0" fill="none" stroke-width="0.9"/>
<path d="M403.9,1349.8 V1380.0" fill="none" stroke-width="0.7"/>
<ellipse cx="382.7" cy="1364.6" rx="9.6" ry="18.3" fill="#fff"/>
<ellipse cx="379.8" cy="1364.6" rx="6.5" ry="14.6" fill="#fff" stroke-width="1.2"/>
<ellipse cx="416.8" cy="1386.4" rx="3.3" ry="4" fill="#fff" stroke-width="1.6"/><ellipse cx="417.6" cy="1386.4" rx="1.5" ry="2.6" fill="#333" stroke="none"/>
</g>
<!-- handles -->
<g fill="none" stroke="#111" stroke-width="1">
<path d="M499.5,1411 Q497,1418 505,1419 L518.5,1419.6"/>
<path d="M499.5,1411.5 Q501,1408.8 505.5,1409.6" stroke-width="1.6"/>
<path d="M551,1404.2 Q561,1402.5 564,1406 Q566.5,1410.5 559.5,1412.3 Q555,1413.2 551,1412.4"/>
<path d="M553,1405.5 Q557,1403.8 559,1406.5" stroke-width="1.4"/>
<path d="M699,1392 Q699.5,1397 706,1396.8 L721,1397.2"/>
<ellipse cx="701.3" cy="1390.3" rx="3.6" ry="3.4" stroke-width="1.5"/>
<path d="M752,1385 Q761.5,1383.2 764,1387 Q766,1391.5 759,1393.5 Q755,1394.4 752,1393.8"/>
<path d="M754,1386.5 Q757.5,1384.8 759.5,1387.5" stroke-width="1.4"/>
</g>
<!-- hands -->
<g fill="#fff" stroke="#111" stroke-width="1.9" stroke-linejoin="round">
<path d="M526.8,1371.7 Q528,1369.5 531,1370.3 L538.5,1373.6 Q545,1375.5 549.7,1375.9 Q552,1376.5 551.6,1378.2 L550.6,1396 L551.1,1419.3 Q550.5,1422 547.8,1422.6 L540.4,1424 Q536,1424.5 533.8,1425.8 Q532,1428.5 531,1427.7 Q528.5,1423.5 527.3,1424 Q524,1426.5 521.7,1425.8 Q518,1424.5 518,1421.2 L518,1414.6 Q517,1411 514.3,1410.9 L504.9,1410.9 Q501,1410.5 499.3,1409.5 L496,1406.2 Q496,1404.5 497.5,1404.4 L504,1403.4 Q510,1400.5 514.3,1397.8 L523.6,1391.3 Q526,1389.5 527.3,1389.4 Z"/>
<path d="M712.9,1361 Q713.5,1359.8 715.2,1359.6 Q719,1358.8 722.6,1357.3 Q727,1354.5 731,1350.8 Q733.8,1350.5 734.3,1352.2 L735.7,1364.8 Q737,1367.5 740.4,1369.4 Q745,1372.3 749.7,1374.1 Q755,1376.5 760.9,1377.8 Q765,1377.5 768.4,1376.4 Q771.5,1376.2 771.6,1378.3 Q771.5,1380.6 770.2,1381.6 Q767,1383.3 763.7,1383.4 L754.4,1383.4 Q752,1383 751.6,1381.6 L752.5,1390.9 L751.6,1399.3 Q750,1400.8 747.8,1401.2 Q745,1403 742.2,1405.8 Q738.5,1404.2 734.8,1404.4 Q731,1405.5 727.3,1404.9 Q723.5,1404.5 721.7,1402.1 L719.9,1385.3 Z"/>
</g>
<!-- arrows -->
<g fill="#f4b03e">
<path d="M571.8,1347.6 L587,1365.8 H576 V1389.6 H567.4 V1365.8 H556.4 Z"/>
<path d="M757.8,1326 L772.8,1343.8 H762.4 V1367.8 H753.8 V1343.8 H743.4 Z"/>
</g>
<!-- bracket -->
<g stroke="#111" stroke-width="1" fill="#fff" stroke-linejoin="round">
<path d="M760,1427.5 L778.6,1438.8" fill="none"/>
<path d="M781,1396 L803.5,1393.6 Q806,1393.5 806,1396 L805.8,1436 Q805.7,1438 803.5,1438.3 L781.5,1440 Q779.4,1440.2 779.4,1438 L779.5,1398 Q779.6,1396.2 781,1396 Z"/>
</g>
<g fill="#111">
<circle cx="786.1" cy="1403" r="2.9"/><circle cx="801.6" cy="1400.6" r="2.9"/><circle cx="785.5" cy="1416" r="2.9"/><circle cx="801" cy="1414.2" r="2.9"/>
</g>

</svg>
<svg width="1179" height="1638" viewBox="0 0 1179 1638" style="font-family:'Liberation Sans',sans-serif">
<g font-size="29.2" fill="#17212a" stroke="#fff" stroke-width="0.6">
<text x="890.6" y="1553.2" textLength="56.6" lengthAdjust="spacingAndGlyphs">SUN</text>
<text x="996.6" y="1553.2" textLength="71" lengthAdjust="spacingAndGlyphs">SYNK</text>
</g>
<text x="1068.5" y="1538" font-size="6" fill="#24303a">®</text>
<g fill="none" stroke="#efa636" stroke-width="3.8" stroke-linejoin="miter">
<path d="M955,1538.5 V1533.4 L971.9,1524.2 L987.9,1532.6 V1544.5 Q987.9,1549.8 982.6,1549.8 H971"/>
<path d="M988.9,1546 V1550.6 L971.9,1560.6 L956.9,1552.6 V1540.6 Q956.9,1535.8 962,1535.8 H973"/>
</g>
<g fill="none" stroke="#fff" stroke-width="1.1">
<path d="M954.3,1541.5 Q954.3,1533.2 962,1533.2"/>
<path d="M990.5,1543.5 Q990.5,1552.4 982.6,1552.4"/>
</g>
<g fill="#efa636">
<path d="M961.6,1549 L972.2,1543.6 V1554.6 Z"/>
<path d="M982.6,1535.9 L972.2,1530.6 V1541.4 Z"/>
</g>
</svg>


<div class="h" style="left:124.5px;top:120px;letter-spacing:0.1px;">Basic System Architecture</div>
<div class="t" style="left:126px;top:169px;letter-spacing:-0.025px;">The following diagram explains the basic application and architecture of this 3-Phase Inverter.</div>
<div class="t" style="left:125px;top:205px;letter-spacing:-0.048px;">It also includes the following devices to have a Complete running system.</div>
<div class="b" style="top:245.3px"></div><div class="t" style="left:159px;top:240px;letter-spacing:0.17px;">Generator or Utility</div>
<div class="b" style="top:280.8px"></div><div class="t" style="left:159px;top:275px;">PV modules</div>
<div class="b" style="top:317.2px"></div><div class="t" style="left:159px;top:311px;letter-spacing:0.2px;">Batteries</div>
<div class="b" style="top:352px"></div><div class="t" style="left:159px;top:346px;letter-spacing:0.14px;">Normal and smart loads</div>
<div class="b" style="top:387.9px"></div><div class="t" style="left:159px;top:382px;letter-spacing:0.25px;">Monitoring system</div>
<div class="t" style="left:125px;top:418px;letter-spacing:0.06px;">Consult with your system integrator for other possible system architectures depending on your require-</div>
<div class="t" style="left:125px;top:445px;letter-spacing:0.4px;">ments.</div>
<div class="t" style="left:125.5px;top:481px;letter-spacing:0.032px;">This inverter can power all kinds of appliances in the home or office environment, including motor-type appli-</div>
<div class="t" style="left:125px;top:507px;">ances such as refrigerators and air conditioners.</div>
<div class="h" style="left:125px;top:1078px;letter-spacing:0.29px;">Product Handling Requirements</div>
<div class="t" style="left:125.5px;top:1127px;letter-spacing:0.053px;">Two people stand on both sides of the machine, holding two handles to lift the machine.</div>
<div class="h" style="left:544px;top:1491px;font-size:19.4px;letter-spacing:0.3px;">Transport</div>
<div class="t" style="left:112px;top:1538px;font-size:16.9px;color:#555;letter-spacing:0.055px;-webkit-text-stroke:0;">10&nbsp;&nbsp; THREE PHASE HI 29.9/50kW | User Manual</div>
</body></html>
